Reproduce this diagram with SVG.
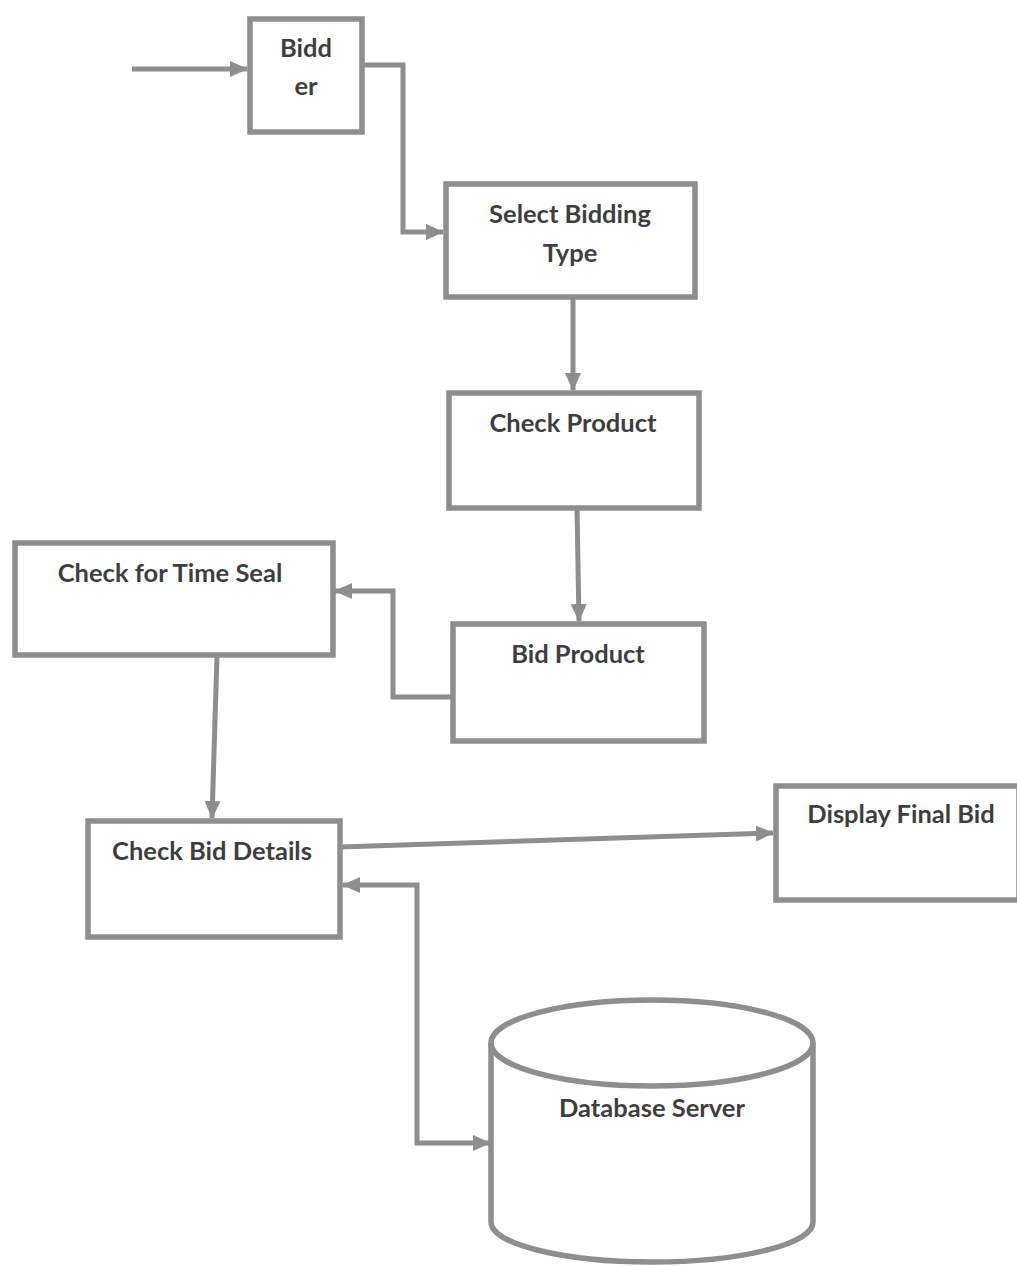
<svg xmlns="http://www.w3.org/2000/svg" width="1017" height="1266" viewBox="0 0 1017 1266">
<style>
.box{fill:#fff;stroke:#8e8e8e;stroke-width:5.5}
.ln{fill:none;stroke:#8e8e8e;stroke-width:5}
.t{font-family:Lato,"Open Sans","Liberation Sans",sans-serif;font-weight:700;font-size:25.5px;fill:#3e3e3e;text-anchor:middle}
</style>
<defs>
<marker id="ah" markerUnits="userSpaceOnUse" markerWidth="18" markerHeight="18" viewBox="0 0 18 18" refX="17" refY="9" orient="auto">
<path d="M0,1 L18,9 L0,17 Z" fill="#8e8e8e"/>
</marker>
<marker id="as" markerUnits="userSpaceOnUse" markerWidth="18" markerHeight="18" viewBox="0 0 18 18" refX="17" refY="9" orient="auto-start-reverse">
<path d="M0,1 L18,9 L0,17 Z" fill="#8e8e8e"/>
</marker>
</defs>
<rect width="1017" height="1266" fill="#fff"/>
<g id="connectors">
<path class="ln" d="M132,69 L247,69" marker-end="url(#ah)"/>
<path class="ln" d="M363,65 L403,65 L403,232 L443,232" marker-end="url(#ah)"/>
<path class="ln" d="M573,298 L573,390" marker-end="url(#ah)"/>
<path class="ln" d="M577,509 L579,621" marker-end="url(#ah)"/>
<path class="ln" d="M452,697 L393,697 L393,591 L335,591" marker-end="url(#ah)"/>
<path class="ln" d="M217,655 L212,818" marker-end="url(#ah)"/>
<path class="ln" d="M340,847 L773,833" marker-end="url(#ah)"/>
<path class="ln" d="M343,885 L417,885 L417,1143 L490,1143" marker-start="url(#as)" marker-end="url(#ah)"/>
</g>
<g id="bidder">
<rect class="box" x="250" y="19" width="112" height="113"/>
<text class="t" x="306" y="57">Bidd</text>
<text class="t" x="306" y="95">er</text>
</g>
<g id="select-bidding-type">
<rect class="box" x="446" y="184" width="249" height="113"/>
<text class="t" x="570" y="223">Select Bidding</text>
<text class="t" x="570" y="262">Type</text>
</g>
<g id="check-product">
<rect class="box" x="449" y="393" width="250" height="115"/>
<text class="t" x="573" y="432">Check Product</text>
</g>
<g id="bid-product">
<rect class="box" x="453" y="624" width="251" height="117"/>
<text class="t" x="578" y="663">Bid Product</text>
</g>
<g id="check-time-seal">
<rect class="box" x="15" y="543" width="318" height="112"/>
<text class="t" x="170" y="582">Check for Time Seal</text>
</g>
<g id="check-bid-details">
<rect class="box" x="88" y="821" width="252" height="116"/>
<text class="t" x="212" y="860">Check Bid Details</text>
</g>
<g id="display-final-bid">
<rect class="box" x="776" y="786" width="243" height="114"/>
<text class="t" x="901" y="823">Display Final Bid</text>
</g>
<g id="database-server">
<path class="box" d="M491,1043 L491,1222 A161,40 0 0 0 813,1222 L813,1043"/>
<ellipse class="box" cx="652" cy="1043" rx="161" ry="43"/>
<text class="t" x="652" y="1117">Database Server</text>
</g>
</svg>
